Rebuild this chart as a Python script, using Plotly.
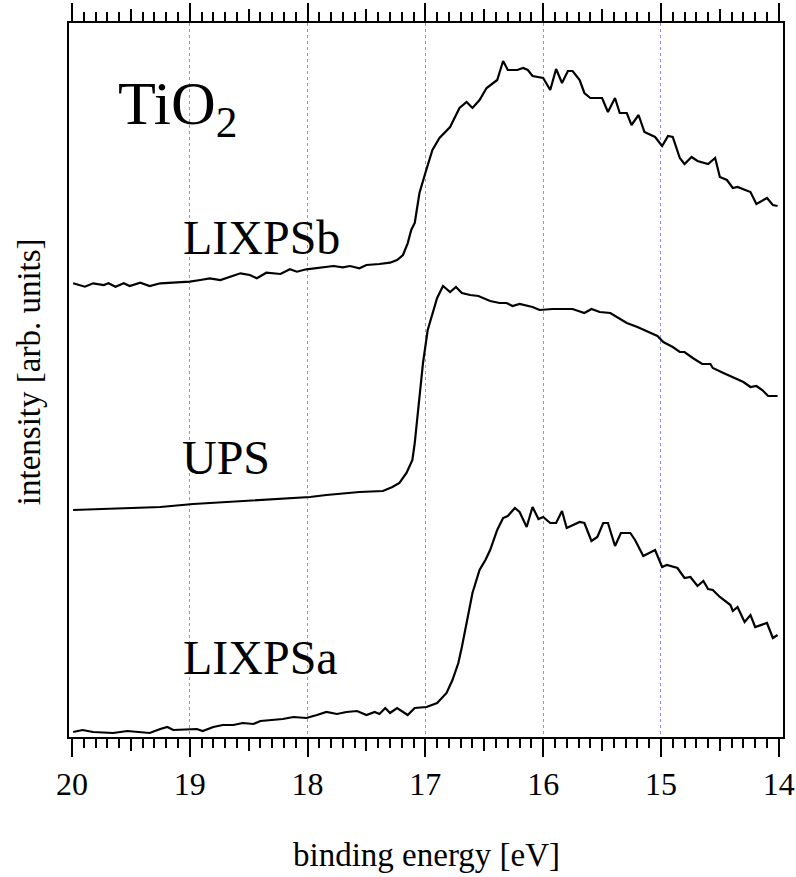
import plotly.graph_objects as go

# ---- data (binding energy in eV, intensity in arb. units, curves already offset) ----
lixpsb_e = [19.99, 19.89, 19.82, 19.73, 19.69, 19.63, 19.56, 19.51, 19.42, 19.34, 19.25, 19.11,
            19.00, 18.91, 18.83, 18.74, 18.66, 18.57, 18.49, 18.43, 18.35, 18.23, 18.15, 18.09,
            18.01, 17.92, 17.84, 17.78, 17.70, 17.64, 17.56, 17.50, 17.39, 17.30, 17.24, 17.19,
            17.15, 17.12, 17.09, 17.05, 17.00, 16.94, 16.88, 16.79, 16.71, 16.65, 16.60, 16.54,
            16.48, 16.39, 16.34, 16.30, 16.22, 16.17, 16.13, 16.09, 16.00, 15.94, 15.89, 15.84,
            15.79, 15.75, 15.69, 15.65, 15.60, 15.50, 15.45, 15.39, 15.35, 15.29, 15.25, 15.19,
            15.14, 15.05, 14.99, 14.94, 14.90, 14.84, 14.80, 14.74, 14.69, 14.60, 14.54, 14.50,
            14.44, 14.39, 14.35, 14.24, 14.19, 14.10, 14.05, 14.01]
lixpsb_i = [453.7, 450.3, 453.7, 452, 453.7, 450.3, 453.7, 451, 454.3, 451, 453.7, 454.3,
            455.3, 457, 458.7, 457, 460.3, 463.7, 462, 458.7, 464.3, 463, 467.7, 465.3,
            467.7, 468.7, 469.7, 471, 469.7, 471, 468.7, 472, 473, 474.3, 477, 482,
            493.7, 507, 514, 544, 564, 587, 599, 610, 629, 635, 629, 637,
            649, 657, 676, 667, 667, 669, 667, 661, 659, 647, 668, 654,
            666, 666, 657, 644, 639, 639, 625, 639, 624, 624, 612, 622,
            605, 600, 591, 601, 600, 579, 573, 580, 576, 573, 579, 560,
            557, 549, 550, 545, 533, 539, 532, 531]

ups_e = [19.99, 19.68, 19.25, 18.97, 18.68, 18.40, 18.12, 17.98, 17.84, 17.56, 17.36, 17.28,
         17.22, 17.16, 17.11, 17.09, 17.07, 17.02, 16.98, 16.94, 16.90, 16.85, 16.79, 16.74,
         16.69, 16.62, 16.55, 16.45, 16.37, 16.31, 16.26, 16.20, 16.14, 16.09, 16.03, 15.92,
         15.75, 15.69, 15.65, 15.59, 15.52, 15.43, 15.37, 15.29, 15.20, 15.12, 15.03, 14.98,
         14.90, 14.84, 14.80, 14.73, 14.65, 14.58, 14.56, 14.47, 14.39, 14.30, 14.24, 14.19,
         14.14, 14.09, 14.01]
ups_i = [227, 228, 230, 233, 235, 237, 239, 240, 242, 245, 246, 250,
         254, 264, 277, 294, 317, 374, 407, 424, 439, 451, 445, 450,
         444, 442, 441, 436, 434, 434, 431, 433, 431, 430, 427, 428,
         428, 426, 424, 428, 425, 424, 420, 414, 410, 406, 401, 395,
         390, 385, 385, 379, 373, 373, 369, 364, 360, 355, 350, 351,
         347, 341, 341]

lixpsa_e = [19.99, 19.91, 19.82, 19.65, 19.53, 19.42, 19.34, 19.25, 19.19, 19.14, 19.02, 18.94,
            18.89, 18.80, 18.72, 18.63, 18.55, 18.46, 18.40, 18.29, 18.21, 18.12, 18.01, 17.92,
            17.84, 17.75, 17.67, 17.58, 17.50, 17.43, 17.39, 17.34, 17.30, 17.24, 17.19, 17.15,
            17.09, 16.99, 16.90, 16.82, 16.77, 16.72, 16.69, 16.65, 16.60, 16.54, 16.49, 16.45,
            16.39, 16.34, 16.30, 16.24, 16.20, 16.14, 16.09, 16.04, 16.00, 15.94, 15.89, 15.84,
            15.80, 15.69, 15.65, 15.59, 15.54, 15.49, 15.45, 15.39, 15.34, 15.26, 15.22, 15.15,
            15.05, 14.99, 14.95, 14.86, 14.80, 14.75, 14.69, 14.64, 14.60, 14.56, 14.50, 14.41,
            14.39, 14.35, 14.29, 14.24, 14.20, 14.10, 14.05, 14.01]
lixpsa_i = [5, 7, 5, 4, 6, 5, 4, 8, 10, 7, 8, 8,
            6, 10, 12, 12, 14, 13, 16, 17, 18, 20, 19, 22,
            25, 23, 25, 26, 22, 25, 23, 29, 24, 29, 25, 22,
            29, 30, 34, 44, 57, 74, 90, 114, 144, 167, 177, 187,
            207, 219, 221, 229, 225, 210, 230, 218, 220, 214, 214, 226,
            209, 215, 214, 196, 200, 214, 214, 191, 204, 204, 197, 181,
            187, 170, 172, 169, 159, 160, 151, 156, 148, 147, 140, 132,
            126, 130, 115, 122, 110, 114, 99, 102]

major_ticks = [20, 19, 18, 17, 16, 15, 14]
tick_labels = ["20", "19", "18", "17", "16", "15", "14"]
half_ticks = [19.5, 18.5, 17.5, 16.5, 15.5, 14.5]
grid_ticks = [19, 18, 17, 16, 15]

series_labels = ["LIXPSb", "UPS", "LIXPSa"]

FONT = "Liberation Serif"
line = dict(color="black", width=2.2)

fig = go.Figure()
# helper traces (invisible) so the overlay axes are drawn
fig.add_trace(go.Scatter(x=[20, 14], y=[0, 0], mode="lines", line=dict(width=0),
                         xaxis="x3", yaxis="y", hoverinfo="skip", showlegend=False, opacity=0))
fig.add_trace(go.Scatter(x=[20, 14], y=[0, 0], mode="lines", line=dict(width=0),
                         xaxis="x2", yaxis="y", hoverinfo="skip", showlegend=False, opacity=0))
fig.add_trace(go.Scatter(x=lixpsb_e, y=lixpsb_i, mode="lines", line=line, name="LIXPSb"))
fig.add_trace(go.Scatter(x=ups_e, y=ups_i, mode="lines", line=line, name="UPS"))
fig.add_trace(go.Scatter(x=lixpsa_e, y=lixpsa_i, mode="lines", line=line, name="LIXPSa"))

xrange = [20.025, 13.964]

fig.update_layout(
    width=796, height=877,
    margin=dict(l=69, r=13, t=23, b=140),
    plot_bgcolor="white", paper_bgcolor="white",
    showlegend=False,
    font=dict(family=FONT, color="black"),
    xaxis=dict(
        range=xrange, autorange=False, automargin=False,
        tickmode="array", tickvals=major_ticks, ticktext=tick_labels,
        ticks="outside", ticklen=18, tickwidth=2, tickcolor="black",
        tickfont=dict(family=FONT, size=32, color="black"),
        showline=True, linecolor="black", linewidth=2, mirror="ticks",
        showgrid=False, zeroline=False,
        minor=dict(dtick=0.1, tick0=20, ticks="outside", ticklen=9, tickwidth=1.5,
                   tickcolor="black", showgrid=False),
    ),
    xaxis2=dict(
        range=xrange, autorange=False, automargin=False, overlaying="x", anchor="y", side="bottom",
        tickmode="array", tickvals=half_ticks, showticklabels=False,
        ticks="outside", ticklen=13, tickwidth=1.5, tickcolor="black",
        showline=False, mirror="ticks", showgrid=False, zeroline=False,
    ),
    xaxis3=dict(
        range=xrange, autorange=False, automargin=False, overlaying="x", anchor="y", side="bottom",
        tickmode="array", tickvals=grid_ticks, showticklabels=False, ticks="",
        showline=False, showgrid=True, gridcolor="#8c8cff", gridwidth=1, griddash="dot",
        zeroline=False, layer="below traces",
    ),
    yaxis=dict(
        range=[0, 714], autorange=False, automargin=False,
        showticklabels=False, ticks="",
        showline=True, linecolor="black", linewidth=2, mirror=True,
        showgrid=False, zeroline=False,
    ),
)

# series labels
label_pos = [(18.39, 500), (18.69, 280), (18.40, 80)]
for txt, (lx, ly) in zip(series_labels, label_pos):
    fig.add_annotation(x=lx, y=ly, xref="x", yref="y", text=txt, showarrow=False,
                       font=dict(family=FONT, size=48, color="black"),
                       xanchor="center", yanchor="middle")

fig.add_annotation(x=19.63, y=630, xref="x", yref="y", text="TiO<sub>2</sub>", showarrow=False,
                   font=dict(family=FONT, size=62, color="black"),
                   xanchor="left", yanchor="middle")

# axis titles
fig.add_annotation(x=0.5, y=-0.165, xref="paper", yref="paper", text="binding energy [eV]",
                   showarrow=False, font=dict(family=FONT, size=33, color="black"),
                   xanchor="center", yanchor="middle")
fig.add_annotation(x=-0.056, y=0.511, xref="paper", yref="paper", text="intensity [arb. units]",
                   showarrow=False, textangle=-90, font=dict(family=FONT, size=33, color="black"),
                   xanchor="center", yanchor="middle")

fig.write_html("out.html")
